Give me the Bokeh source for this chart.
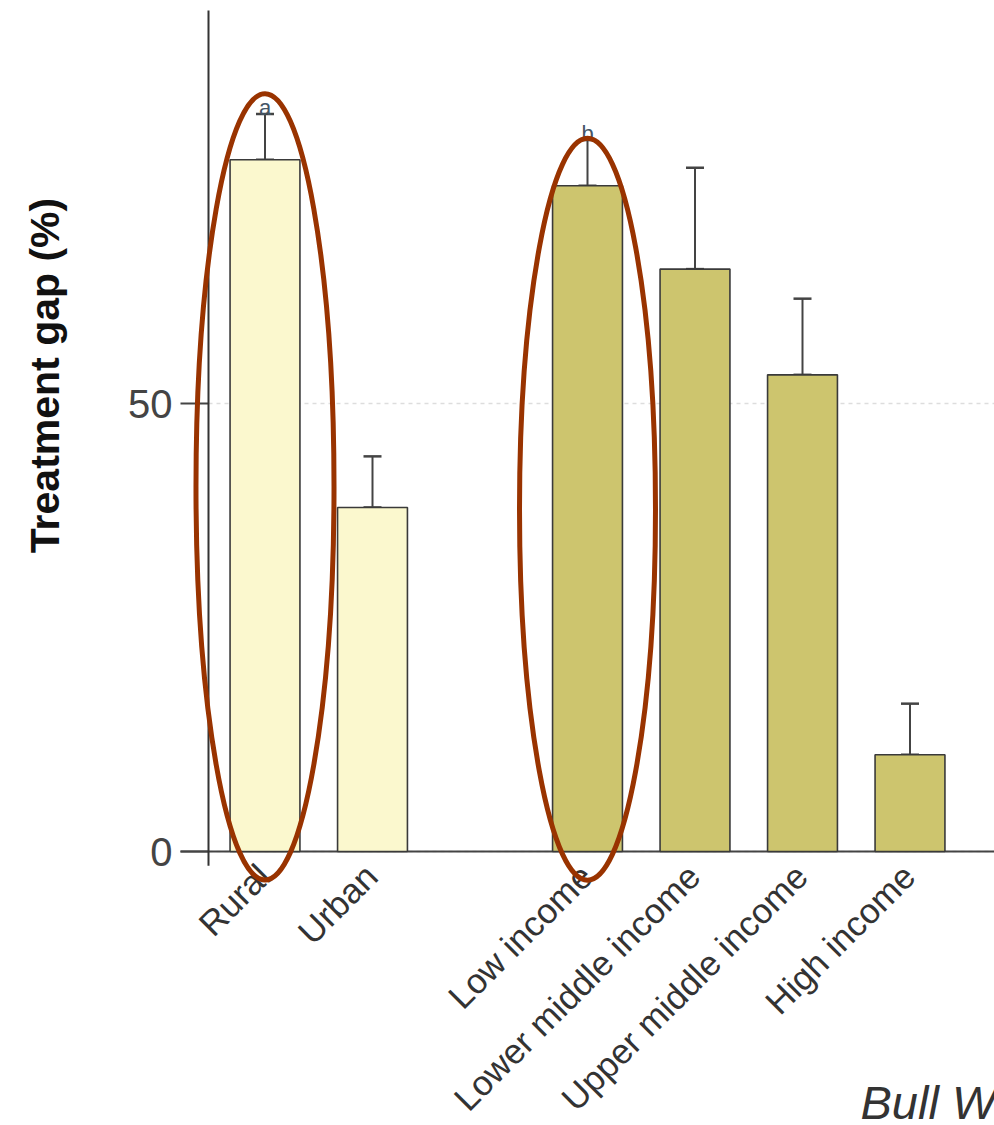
import math
from bokeh.plotting import figure
from bokeh.models import Range1d, Whisker, TeeHead, ColumnDataSource
from bokeh.core.properties import value
from bokeh.embed import file_html
from bokeh.resources import INLINE

# ---- data ----
categories = ["Rural", "Urban", "Low income", "Lower middle income",
              "Upper middle income", "High income"]
groups = [0, 0, 1, 1, 1, 1]
gap_values = [77.2, 38.4, 74.3, 65.0, 53.2, 10.8]
upper_ci = [82.3, 44.1, 79.4, 76.3, 61.7, 16.5]
sig_letters = ["a", "", "b", "", "", ""]
highlighted = ["Rural", "Low income"]
y_ticks = [0, 50]
y_tick_labels = ["0", "50"]
y_title = "Treatment gap (%)"
source_note = "Bull World Health Organ"

# ---- layout helpers ----
positions = [i + g for i, g in enumerate(groups)]  # one empty slot between groups
group_colors = ["#FBF8CE", "#CDC56E"]
colors = [group_colors[g] for g in groups]

PX_X = 107.5
PX_Y = 8.96
W, H = 994, 1125
top_b = 10
x0 = -264.5 / PX_X
x1 = x0 + W / PX_X
y1 = (851 - 10) / PX_Y
y0 = y1 - (H - top_b) / PX_Y
xa = x0 + 208 / PX_X          # y-axis line
xt = x0 + 180 / PX_X          # outer end of tick marks

FONT = "Liberation Sans"

p = figure(width=W, height=H, output_backend="svg", toolbar_location=None,
           x_range=Range1d(x0, x1), y_range=Range1d(y0, y1),
           min_border_left=0, min_border_top=top_b,
           min_border_right=0, min_border_bottom=0)
p.outline_line_color = None
p.background_fill_color = "white"
p.border_fill_color = "white"
p.xaxis.visible = False
p.yaxis.visible = False
p.xgrid.visible = False
p.ygrid.visible = False

n = len(y_ticks)
# dashed horizontal grid lines (from the axis to the right)
p.segment(x0=[xa] * n, y0=y_ticks, x1=[x1] * n, y1=y_ticks,
          line_color="#dddddd", line_width=1.5, line_dash="4 4")
# baseline at zero
p.segment(x0=[xt], y0=[0], x1=[x1], y1=[0], line_color="#444444", line_width=2)
# tick marks
p.segment(x0=[xt] * n, y0=y_ticks, x1=[xa] * n, y1=y_ticks,
          line_color="#444444", line_width=2)
# axis line (stops just below zero)
p.segment(x0=[xa], y0=[-1.6], x1=[xa], y1=[y1 + 1],
          line_color="#333333", line_width=2)
# tick labels
p.text(x=[xt] * n, y=y_ticks, text=y_tick_labels, x_offset=-8,
       text_align="right", text_baseline="middle", text_font=value(FONT),
       text_font_size="40px", text_color="#444444")
# axis title
p.text(x=[x0 + 44 / PX_X], y=[(851 - 375) / PX_Y], text=[y_title],
       angle=math.pi / 2, text_align="center", text_baseline="middle",
       text_font=value(FONT), text_font_style="bold",
       text_font_size="41px", text_color="#111111")

src = ColumnDataSource(dict(x=positions, top=gap_values, upper=upper_ci,
                            color=colors, cat=categories, sig=sig_letters))

p.vbar(x="x", top="top", bottom=0, width=0.65, fill_color="color",
       line_color="#3a3a3a", line_width=1.6, source=src)

wh = Whisker(base="x", lower="top", upper="upper", source=src,
             line_color="#444444", line_width=2,
             upper_head=TeeHead(size=18, line_color="#444444", line_width=2.5),
             lower_head=TeeHead(size=18, line_color="#444444", line_width=2.5))
p.add_layout(wh)

# significance letters
p.text(x="x", y="upper", text="sig", source=src, text_align="center",
       text_baseline="alphabetic", y_offset=-7, text_font=value(FONT),
       text_font_size="22px", text_color="#445566")

# category labels
p.text(x="x", y=-0.55, text="cat", source=src, angle=math.pi / 4,
       text_align="right", text_baseline="top", x_offset=-15,
       text_font=value(FONT), text_font_size="35px", text_color="#333333")

# highlight ellipses
hx = [positions[categories.index(c)] for c in highlighted]
p.ellipse(x=hx, y=[40.7, 38.2], width=[1.284, 1.265], height=[87.8, 82.8],
          fill_color=None, line_color="#993300", line_width=5)

# source note (cut off at the right edge, as in the original)
p.text(x=[x0 + 860 / PX_X], y=[(851 - 1102) / PX_Y],
       text=[source_note], text_align="left",
       text_baseline="alphabetic", text_font=value(FONT),
       text_font_style="italic", text_font_size="47px", text_color="#333333")

open("out.html", "w").write(file_html(p, INLINE))
